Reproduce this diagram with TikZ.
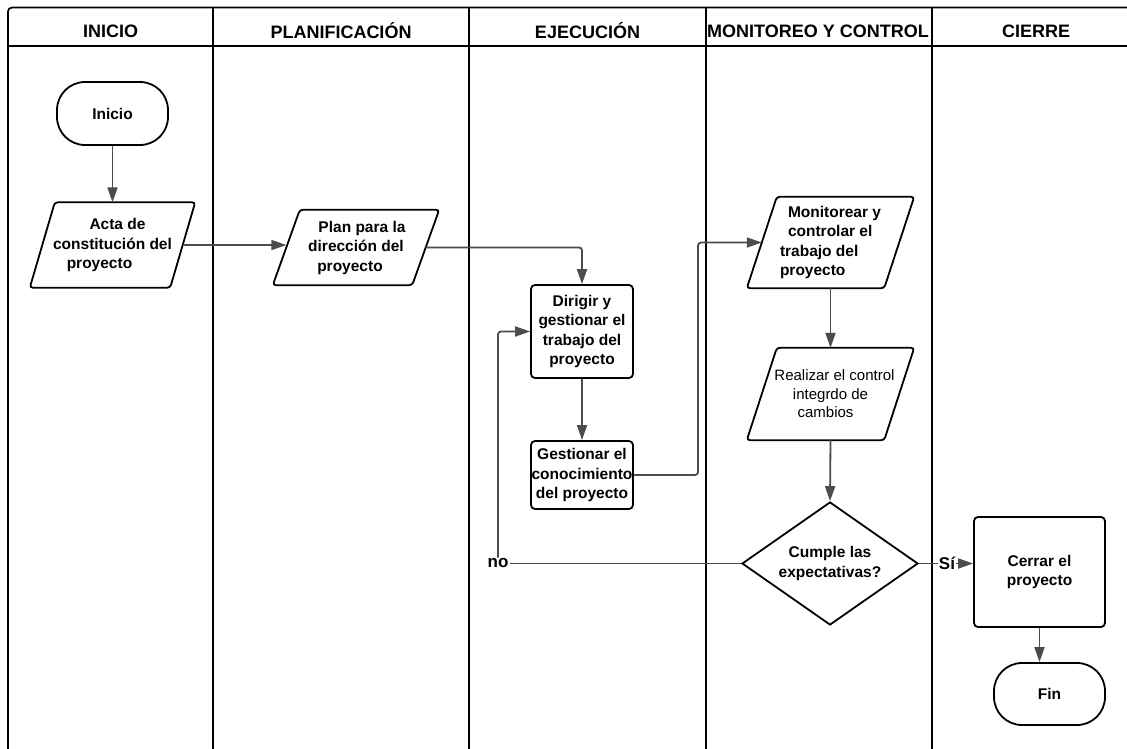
\documentclass[tikz,border=0pt]{standalone}
\usepackage{fontspec}
\setmainfont{Liberation Sans}
\usetikzlibrary{arrows.meta,calc,shapes.geometric}

% parallelogram drawn around a text node; #2 = half of the horizontal slant
\newcommand\pgram[2]{%
  \draw[shapeline,rounded corners=3pt]
    ($(#1.north west)+(#2,0)$) -- ($(#1.north east)+(#2,0)$) --
    ($(#1.south east)-(#2,0)$) -- ($(#1.south west)-(#2,0)$) -- cycle;}

\begin{document}
\begin{tikzpicture}[x=1pt,y=-1pt,
  lane/.style={line width=1.7pt,draw=black},
  shapeline/.style={line width=1.8pt,draw=black},
  conn/.style={line width=1.8pt,draw=black!70,rounded corners=3pt,
               -{Triangle[length=15pt,width=10pt,fill=black!70]}},
  plain/.style={line width=1.8pt,draw=black!70},
  header/.style={font=\fontsize{18}{20}\selectfont\bfseries,inner sep=0pt},
  btxt/.style={font=\fontsize{15.5}{19.5}\selectfont\bfseries,align=center,inner sep=0pt},
  rtxt/.style={font=\fontsize{15}{18.5}\selectfont,align=center,inner sep=0pt},
  terminal/.style={shapeline,rectangle,rounded corners=28pt,btxt},
  process/.style={shapeline,rectangle,rounded corners=4pt,btxt},
  iobox/.style={rectangle,inner sep=0pt},
  lbl/.style={font=\fontsize{17}{19}\selectfont\bfseries,inner sep=1pt}
]
\useasboundingbox (0,0) rectangle (1127,749);
\fill[white] (0,0) rectangle (1127,749);

% swimlane frame
\draw[lane,rounded corners=4pt] (8,760) -- (8,7.5) -- (1140,7.5);
\draw[lane] (8,46) -- (1140,46);
\foreach \xx in {213,469,706,932} \draw[lane] (\xx,7.5) -- (\xx,760);

\node[header] (h1) at (110.5,31) {INICIO};
\node[header] (h2) at (341,31) {PLANIFICACIÓN};
\node[header] (h3) at (587.5,31) {EJECUCIÓN};
\node[header] (h4) at (818,31) {MONITOREO Y CONTROL};
\node[header] (h5) at (1036,31) {CIERRE};

% INICIO
\node[terminal,minimum width=111pt,minimum height=63pt] (inicio) at (112.5,113.5) {Inicio};
\node[iobox,btxt,minimum width=140pt,minimum height=85pt] (acta) at (112.5,245)
  {\hspace*{10pt}Acta de\\constitución del\\proyecto\hspace*{26pt}};
\pgram{acta}{12.5}

% PLANIFICACIÓN
\node[iobox,btxt,minimum width=139pt,minimum height=75pt] (plan) at (356,247.5)
  {\hspace*{12pt}Plan para la\\dirección del\\proyecto\hspace*{12pt}};
\pgram{plan}{13.5}

% EJECUCIÓN
\node[process,minimum width=102pt,minimum height=93pt] (dirigir) at (582,331.5)
  {Dirigir y\\gestionar el\\trabajo del\\proyecto};
\node[process,minimum width=102pt,minimum height=68pt] (gestionar) at (582,475)
  {Gestionar el\\conocimiento\\del proyecto};

% MONITOREO Y CONTROL
\node[iobox,btxt,align=left,minimum width=137pt,minimum height=91pt] (monit) at (830.5,242.5)
  {\hspace*{8pt}Monitorear y\\\hspace*{8pt}controlar el\\trabajo del\\proyecto};
\pgram{monit}{15}
\node[iobox,rtxt,minimum width=137pt,minimum height=92pt] (realizar) at (830.5,394)
  {\hspace*{8pt}Realizar el control\\integrdo de\\cambios\hspace*{10pt}};
\pgram{realizar}{15}
\node[diamond,shapeline,minimum width=176pt,minimum height=123pt,inner sep=0pt,shape aspect=1.43]
  (dec) at (830,563.5) {};
\node[btxt] (dectxt) at (dec.center) {Cumple las\\expectativas?};

% CIERRE
\node[process,minimum width=131pt,minimum height=110pt] (cerrar) at (1039.5,572)
  {Cerrar el\\proyecto};
\node[terminal,minimum width=111pt,minimum height=62pt] (fin) at (1049.5,694) {Fin};

% branch labels
\node[lbl] (no) at (498,563.5) {no};
\node[lbl] (si) at (947,563.5) {Sí};
\coordinate (gturn) at (698,475);

% connectors
\draw[conn] (inicio.south) -- (acta.north);
\draw[conn] (acta.east) -- (acta.east -| plan.west);
\draw[conn] (plan.east) -| (dirigir.north);
\draw[conn] (dirigir.south) -- (gestionar.north);
\draw[conn] (gestionar.east) -- (gturn) |- (monit.west);
\draw[conn] (monit.south) -- (realizar.north);
\draw[conn] (realizar.south) -- (dec.north);
\draw[plain] (dec.west) -- (no.east);
\draw[conn] (no.north) |- (dirigir.west);
\draw[plain] (dec.east) -- (si.west);
\draw[conn] (si.east) -- (si.east -| cerrar.west);
\draw[conn] (cerrar.south) -- (cerrar.south |- fin.north);
\end{tikzpicture}
\end{document}
